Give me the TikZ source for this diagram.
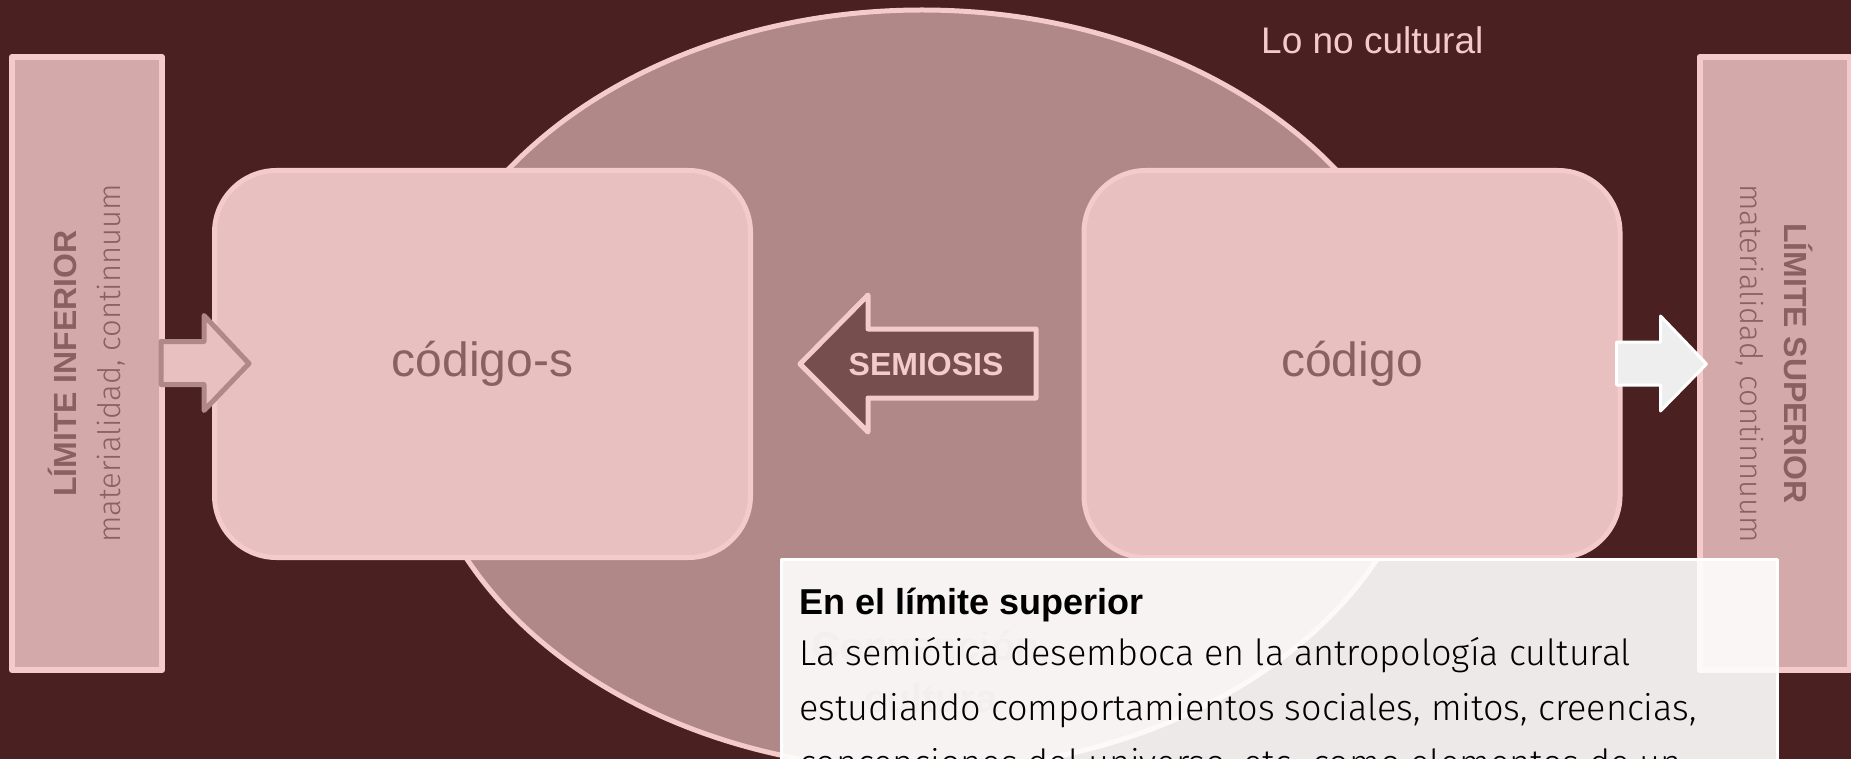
\documentclass[tikz,border=0pt]{standalone}
\usepackage{fontspec}
\setmainfont{Liberation Sans}
\newfontfamily\lightfont{Fira Sans Light}
\usetikzlibrary{positioning}

\definecolor{fondo}{HTML}{4A2020}
\definecolor{elipse}{HTML}{B08888}
\definecolor{borde}{HTML}{F4CACA}
\definecolor{barra}{HTML}{D4A9A9}
\definecolor{caja}{HTML}{E8C0C0}
\definecolor{texto}{HTML}{8B6060}
\definecolor{flecha}{HTML}{764E4E}
\definecolor{gris}{HTML}{EEEEEE}

\begin{document}
\begin{tikzpicture}[x=1pt,y=-1pt,line join=round,
  bar/.style={draw=borde,fill=barra,line width=6pt,minimum width=613pt,minimum height=150pt,
    text=texto,align=center,font=\fontsize{32}{44}\selectfont\bfseries},
  codebox/.style={draw=borde,fill=caja,line width=5pt,rounded corners=62pt,
    minimum width=536pt,minimum height=387pt,text=texto,font=\fontsize{48}{48}\selectfont},
  bodyline/.style={anchor=base west,inner sep=0pt,font=\lightfont\fontsize{36}{36}\selectfont,text=black}]
\useasboundingbox (0,0) rectangle (1851,759);
\clip (0,0) rectangle (1851,759);
\fill[fondo] (0,0) rectangle (1851,759);

% ellipse of the cultural
\draw[fill=elipse,draw=borde,line width=5pt] (922,390) ellipse [x radius=508pt,y radius=380pt];
\node[text=texto,font=\fontsize{40}{52}\selectfont\bfseries,align=center] (cultura) at (931,672) {Convención,\\cultura};

% limits
\node[bar,rotate=90] (inferior) at (87,363.5) {LÍMITE INFERIOR\\{\lightfont\mdseries\fontsize{31}{44}\selectfont materialidad, continnuum}};
\node[bar,rotate=-90] (superior) at (1774.5,363.5) {LÍMITE SUPERIOR\\{\lightfont\mdseries\fontsize{31}{44}\selectfont materialidad, continnuum}};

% codes
\node[codebox] (codigos) at (482.5,364) {código-s};
\node[codebox] (codigo) at (1352,364) {código};

% arrows
\draw[fill=caja,draw=elipse,line width=5pt,shift={(inferior.south)}]
  (-4,-22) -- (39,-22) -- (39,-48) -- (84,0) -- (39,47) -- (39,21) -- (-4,21) -- cycle;
\draw[fill=gris,draw=white,line width=3pt,shift={(codigo.east)}]
  (-6,-22) -- (38,-22) -- (38,-48) -- (84,0) -- (38,47) -- (38,21) -- (-6,21) -- cycle;
\coordinate (semi) at (926,364);
\draw[fill=flecha,draw=borde,line width=5pt,shift={(semi)}]
  (110,-35) -- (-58,-35) -- (-58,-69) -- (-126,0) -- (-58,68) -- (-58,34) -- (110,34) -- cycle;
\node[text=borde,font=\fontsize{32}{32}\selectfont\bfseries] (semiosis) at (semi) {SEMIOSIS};

\node[anchor=base west,inner sep=0pt,text=borde,font=\fontsize{37}{37}\selectfont] (nocultural) at (1261,54) {Lo no cultural};

% info box
\node[anchor=north west,draw=white,fill=white,fill opacity=0.9,line width=3pt,
  minimum width=996pt,minimum height=260pt] (info) at (779.5,557.5) {};
\node[anchor=base west,inner sep=0pt,font=\fontsize{36}{36}\selectfont\bfseries] (titulo) at (799,614) {En el límite superior};
\node[bodyline] (linea1) at (799,665) {La semiótica desemboca en la antropología cultural};
\node[bodyline] (linea2) at (799,720) {estudiando comportamientos sociales, mitos, creencias,};
\node[bodyline] (linea3) at (799,775) {concepciones del universo, etc. como elementos de un};
\end{tikzpicture}
\end{document}
